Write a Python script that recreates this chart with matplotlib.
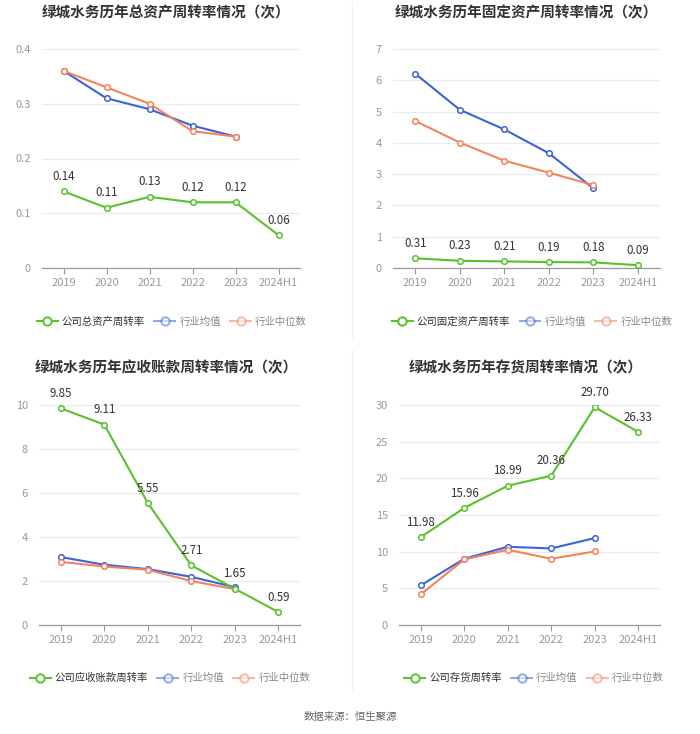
import matplotlib
matplotlib.use("Agg")
import matplotlib.pyplot as plt
from matplotlib.lines import Line2D

plt.rcParams['font.family'] = ['Noto Sans CJK SC', 'DejaVu Sans']

years = ['2019', '2020', '2021', '2022', '2023', '2024H1']

# 总资产周转率
total_company = [0.14, 0.11, 0.13, 0.12, 0.12, 0.06]
total_avg = [0.36, 0.31, 0.29, 0.26, 0.24]
total_median = [0.36, 0.33, 0.30, 0.25, 0.24]

# 固定资产周转率
fixed_company = [0.31, 0.23, 0.21, 0.19, 0.18, 0.09]
fixed_avg = [6.21, 5.06, 4.43, 3.67, 2.55]
fixed_median = [4.70, 4.01, 3.43, 3.05, 2.65]

# 应收账款周转率
recv_company = [9.85, 9.11, 5.55, 2.71, 1.65, 0.59]
recv_avg = [3.09, 2.74, 2.54, 2.19, 1.72]
recv_median = [2.87, 2.66, 2.51, 2.00, 1.63]

# 存货周转率
inv_company = [11.98, 15.96, 18.99, 20.36, 29.70, 26.33]
inv_avg = [5.40, 9.03, 10.67, 10.44, 11.85]
inv_median = [4.18, 8.94, 10.26, 9.03, 10.03]

GREEN = '#57c22d'
BLUE = '#3b64d6'
ORANGE = '#f4825c'

W, H = 700, 734
fig = plt.figure(figsize=(W / 100, H / 100), dpi=100)
fig.patch.set_facecolor('white')


def px_axes(x0, x1, ytop, ybot):
    return fig.add_axes([x0 / W, 1 - ybot / H, (x1 - x0) / W, (ybot - ytop) / H])


def draw_panel(box, title, title_xy, legend_xy, company_label, company, avg, median,
               ymax, ystep, fmt):
    ax = px_axes(*box)
    x = list(range(len(years)))
    ax.plot(x[:len(avg)], avg, color=BLUE, lw=1.5, marker='o', ms=4,
            mfc='white', mec=BLUE, mew=1.1, zorder=3)
    ax.plot(x[:len(median)], median, color=ORANGE, lw=1.5, marker='o', ms=4,
            mfc='white', mec=ORANGE, mew=1.1, zorder=3)
    ax.plot(x, company, color=GREEN, lw=1.5, marker='o', ms=4,
            mfc='white', mec=GREEN, mew=1.1, zorder=4)
    for xi, v in zip(x, company):
        ax.annotate(fmt.format(v), (xi, v), xytext=(0, 6), textcoords='offset points',
                    ha='center', va='bottom', fontsize=8.3, color='#333333', zorder=5)

    ax.set_xlim(-0.5, len(years) - 0.5)
    ax.set_ylim(0, ymax)
    ticks = [i * ystep for i in range(int(round(ymax / ystep)) + 1)]
    ax.set_yticks(ticks)
    ax.set_yticklabels(['0' if t == 0 else ('{:g}'.format(round(t, 2))) for t in ticks])
    ax.set_xticks(x)
    ax.set_xticklabels(years)
    ax.tick_params(axis='y', length=0, labelsize=8, labelcolor='#999999', pad=8)
    ax.tick_params(axis='x', length=4, color='#999999', labelsize=8,
                   labelcolor='#999999', pad=3)
    ax.grid(axis='y', color='#e9ebf0', lw=0.8)
    ax.set_axisbelow(True)
    for s in ['top', 'right', 'left']:
        ax.spines[s].set_visible(False)
    ax.spines['bottom'].set_color('#999999')
    ax.spines['bottom'].set_linewidth(0.9)

    fig.text(title_xy[0] / W, 1 - title_xy[1] / H, title, ha='center', va='center',
             fontsize=10.5, fontweight='bold', color='#333333')

    handles = [
        Line2D([0], [0], color=GREEN, lw=1.5, marker='o', ms=6, mfc='white', mec=GREEN, mew=1.4),
        Line2D([0], [0], color=BLUE, lw=1.5, marker='o', ms=6, mfc='white', mec=BLUE,
               mew=1.4, alpha=0.55),
        Line2D([0], [0], color=ORANGE, lw=1.5, marker='o', ms=6, mfc='white', mec=ORANGE,
               mew=1.4, alpha=0.55),
    ]
    leg = fig.legend(handles, [company_label, '行业均值', '行业中位数'], ncol=3,
                     loc='center', bbox_to_anchor=(legend_xy[0] / W, 1 - legend_xy[1] / H),
                     frameon=False, fontsize=7.5, handlelength=2.0, handletextpad=0.4,
                     columnspacing=0.9)
    for i, t in enumerate(leg.get_texts()):
        t.set_color('#333333' if i == 0 else '#888888')
    return ax


draw_panel((42, 300, 49, 268), '绿城水务历年总资产周转率情况（次）', (166, 12), (172, 322),
           '公司总资产周转率', total_company, total_avg, total_median, 0.4, 0.1, '{:.2f}')
draw_panel((393, 660, 49, 268), '绿城水务历年固定资产周转率情况（次）', (526, 12), (532, 322),
           '公司固定资产周转率', fixed_company, fixed_avg, fixed_median, 7, 1, '{:.2f}')
draw_panel((39, 300, 405, 625), '绿城水务历年应收账款周转率情况（次）', (166, 367), (170, 678),
           '公司应收账款周转率', recv_company, recv_avg, recv_median, 10, 2, '{:.2f}')
draw_panel((399, 660, 405, 625), '绿城水务历年存货周转率情况（次）', (526, 367), (534, 678),
           '公司存货周转率', inv_company, inv_avg, inv_median, 30, 5, '{:.2f}')

# faint column dividers
fig.add_artist(Line2D([352 / W, 352 / W], [1 - 2 / H, 1 - 338 / H], color='#f2f2f2', lw=1))
fig.add_artist(Line2D([352 / W, 352 / W], [1 - 350 / H, 1 - 690 / H], color='#f2f2f2', lw=1))

fig.text(350 / W, 1 - 717 / H, '数据来源：恒生聚源', ha='center', va='center',
         fontsize=7.5, color='#666666')

fig.savefig('out.png', dpi=100, facecolor='white')
